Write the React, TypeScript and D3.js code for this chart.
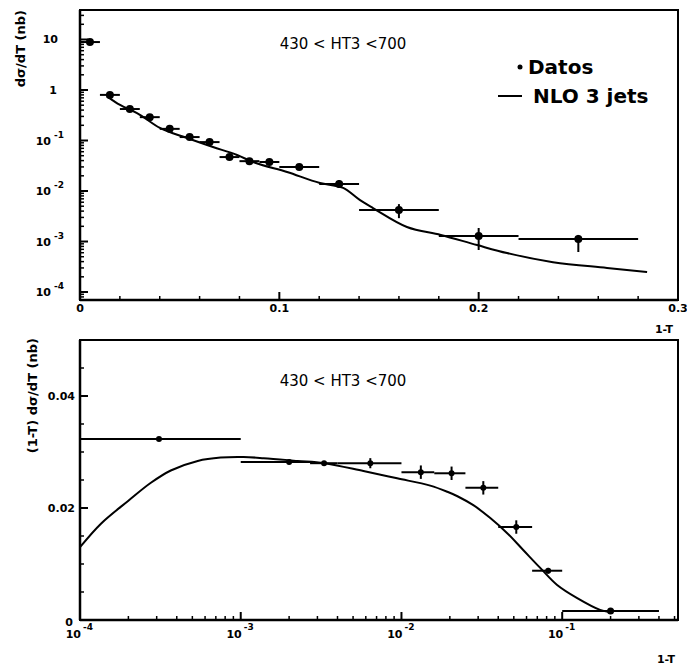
import React from "react";
import * as d3 from "d3";

// top panel: dsigma/dT vs 1-T
const topX = [0.005, 0.015, 0.025, 0.035, 0.045, 0.055, 0.065, 0.075, 0.085, 0.095, 0.11, 0.13, 0.16, 0.2, 0.25];
const topY = [8.9, 0.8, 0.42, 0.29, 0.17, 0.117, 0.093, 0.047, 0.039, 0.0375, 0.03, 0.0138, 0.0042, 0.00128, 0.00112];
const topXLo = [0, 0.01, 0.02, 0.03, 0.04, 0.05, 0.06, 0.07, 0.08, 0.09, 0.1, 0.12, 0.14, 0.18, 0.22];
const topXHi = [0.01, 0.02, 0.03, 0.04, 0.05, 0.06, 0.07, 0.08, 0.09, 0.1, 0.12, 0.14, 0.18, 0.22, 0.28];
const topYLo = [8.2, 0.74, 0.39, 0.27, 0.157, 0.108, 0.085, 0.043, 0.036, 0.034, 0.027, 0.0115, 0.0029, 0.00068, 0.00062];
const topYHi = [9.6, 0.86, 0.45, 0.31, 0.183, 0.126, 0.1, 0.051, 0.042, 0.041, 0.033, 0.0165, 0.0055, 0.00185, 0.00135];

const topNloX = [0.0135, 0.0201, 0.0286, 0.0401, 0.0537, 0.0667, 0.0788, 0.0868, 0.1039, 0.1204, 0.132, 0.1405, 0.147, 0.164, 0.181, 0.1992, 0.2142, 0.2373, 0.2644, 0.2845];
const topNloY = [0.75, 0.505, 0.35, 0.177, 0.112, 0.0743, 0.0516, 0.0375, 0.0238, 0.0144, 0.0115, 0.0066, 0.0046, 0.00194, 0.00135, 0.00085, 0.00059, 0.00039, 0.0003, 0.00025];

// bottom panel: (1-T) dsigma/dT vs 1-T (log)
const botX = [3.1e-4, 2.0e-3, 3.3e-3, 6.4e-3, 0.0132, 0.0205, 0.0323, 0.0518, 0.0818, 0.2];
const botY = [0.0323, 0.0282, 0.028, 0.028, 0.0264, 0.0262, 0.0236, 0.0166, 0.0088, 0.0016];
const botXLo = [1e-4, 1e-3, 2.7e-3, 4e-3, 0.01, 0.016, 0.025, 0.04, 0.065, 0.1];
const botXHi = [1e-3, 2.8e-3, 4e-3, 0.01, 0.016, 0.025, 0.04, 0.065, 0.1, 0.4];
const botYErr = [0, 0.0004, 0.0004, 0.0009, 0.0012, 0.0012, 0.0012, 0.0012, 0.0005, 0.0003];

const botNloX = [1e-4, 1.35e-4, 2.0e-4, 2.76e-4, 3.67e-4, 5.4e-4, 7.5e-4, 1.04e-3, 1.39e-3, 2.26e-3, 3.3e-3, 5.8e-3, 9.4e-3, 0.0151, 0.0193, 0.0223, 0.028, 0.0357, 0.0455, 0.0572, 0.073, 0.093, 0.124, 0.172, 0.199];
const botNloY = [0.013, 0.0172, 0.0213, 0.0245, 0.0267, 0.0284, 0.029, 0.0291, 0.0289, 0.0284, 0.028, 0.0266, 0.0253, 0.024, 0.0229, 0.0221, 0.0205, 0.0182, 0.0155, 0.0125, 0.0093, 0.00625, 0.0039, 0.0018, 0.0014];

const topXTicks = [0, 0.1, 0.2, 0.3];
const topXTickLabels = ["0", "0.1", "0.2", "0.3"];
const topYTicks = [1e-4, 1e-3, 1e-2, 1e-1, 1, 10];
const topYExp = [-4, -3, -2, -1, 0, 1];
const botXTicks = [1e-4, 1e-3, 1e-2, 1e-1];
const botXExp = [-4, -3, -2, -1];
const botYTicks = [0, 0.02, 0.04];
const botYTickLabels = ["0", "0.02", "0.04"];

const rangeLabel = "430 < HT3 <700";
const legendData = "Datos";
const legendNlo = "NLO 3 jets";

const FONT = "'DejaVu Sans', Arial, sans-serif";
const L = 80, R = 678;
const T1 = 10, B1 = 300;
const T2 = 340, B2 = 620;

export default function App() {
  const x1 = d3.scaleLinear().domain([0, 0.3]).range([L, R]);
  const y1 = d3.scaleLog().domain([10 ** -4.158, 10 ** 1.584]).range([B1, T1]);
  const x2 = d3.scaleLog().domain([1e-4, 10 ** -0.2795]).range([L, R]);
  const y2 = d3.scaleLinear().domain([0, 0.05]).range([B2, T2]);

  const line1 = d3
    .line<number>()
    .x((d, i) => x1(topNloX[i]))
    .y((d) => y1(d))
    .curve(d3.curveMonotoneX);
  const line2 = d3
    .line<number>()
    .x((d, i) => x2(botNloX[i]))
    .y((d) => y2(d))
    .curve(d3.curveCatmullRom.alpha(0.5));

  // minor ticks
  const y1Minor = y1.ticks().filter((v) => !topYTicks.some((t) => Math.abs(t - v) / t < 1e-6));
  const x1Minor = d3.range(0.02, 0.3, 0.02).filter((v) => Math.abs(v * 10 - Math.round(v * 10)) > 1e-6);
  const x2Minor = x2.ticks().filter((v) => !botXTicks.some((t) => Math.abs(t - v) / t < 1e-6));
  const y2Minor = d3.range(0.005, 0.05, 0.005).filter((v) => Math.abs(v * 50 - Math.round(v * 50)) > 1e-6);

  const ax = { stroke: "#000", strokeWidth: 2.5, fill: "none" };

  return (
    <svg width={687} height={665} style={{ position: "absolute", left: 0, top: 0, background: "#fff" }} fontFamily={FONT}>
      {/* ===== top panel ===== */}
      <rect x={L} y={T1} width={R - L} height={B1 - T1} fill="none" stroke="#000" strokeWidth={2} />
      <line x1={L} x2={L} y1={T1} y2={B1} {...ax} />
      <line x1={L} x2={R} y1={B1} y2={B1} {...ax} />
      {topYTicks.map((t) => (
        <line key={"ty" + t} x1={L} x2={L + 8} y1={y1(t)} y2={y1(t)} stroke="#000" strokeWidth={2} />
      ))}
      {y1Minor.map((t) => (
        <line key={"tym" + t} x1={L} x2={L + 4} y1={y1(t)} y2={y1(t)} stroke="#000" strokeWidth={1.5} />
      ))}
      {topXTicks.map((t) => (
        <line key={"tx" + t} x1={x1(t)} x2={x1(t)} y1={B1} y2={B1 - 8} stroke="#000" strokeWidth={2} />
      ))}
      {x1Minor.map((t) => (
        <line key={"txm" + t} x1={x1(t)} x2={x1(t)} y1={B1} y2={B1 - 4} stroke="#000" strokeWidth={1.5} />
      ))}
      {topXTicks.map((t, i) => (
        <text key={"txl" + t} x={x1(t)} y={312} fontSize={11} fontWeight="bold" textAnchor="middle">
          {topXTickLabels[i]}
        </text>
      ))}
      {topYTicks.map((t, i) => {
        const e = topYExp[i];
        const y = y1(t) + 4;
        if (e === 1) return <text key={"tyl" + t} x={58} y={y} fontSize={11} fontWeight="bold" textAnchor="end">10</text>;
        if (e === 0) return <text key={"tyl" + t} x={57} y={y} fontSize={11} fontWeight="bold" textAnchor="end">1</text>;
        return (
          <g key={"tyl" + t} fontWeight="bold">
            <text x={51} y={y} fontSize={11} textAnchor="end">10</text>
            <text x={54} y={y - 7} fontSize={9}>{e}</text>
          </g>
        );
      })}
      <text x={673} y={333} fontSize={11} fontWeight="bold" textAnchor="end">1-T</text>
      <text transform="translate(25,10) rotate(-90)" fontSize={13} fontWeight="bold" textAnchor="end">
        dσ/dT (nb)
      </text>
      <text x={343} y={49} fontSize={15} textAnchor="middle">{rangeLabel}</text>

      {/* legend */}
      <circle cx={520} cy={67} r={2.5} fill="#000" />
      <text x={528} y={74} fontSize={20} fontWeight="bold">{legendData}</text>
      <line x1={498} x2={522} y1={96} y2={96} stroke="#000" strokeWidth={2} />
      <text x={533} y={103} fontSize={20} fontWeight="bold">{legendNlo}</text>

      <path d={line1(topNloY) || ""} fill="none" stroke="#000" strokeWidth={2} />
      {topX.map((v, i) => (
        <g key={"tp" + i} stroke="#000" strokeWidth={2}>
          <line x1={x1(topXLo[i])} x2={x1(topXHi[i])} y1={y1(topY[i])} y2={y1(topY[i])} />
          <line x1={x1(v)} x2={x1(v)} y1={y1(topYLo[i])} y2={y1(topYHi[i])} />
          <circle cx={x1(v)} cy={y1(topY[i])} r={4} fill="#000" stroke="none" />
        </g>
      ))}

      {/* ===== bottom panel ===== */}
      <rect x={L} y={T2} width={R - L} height={B2 - T2} fill="none" stroke="#000" strokeWidth={2} />
      <line x1={L} x2={L} y1={T2} y2={B2} {...ax} />
      <line x1={L} x2={R} y1={B2} y2={B2} {...ax} />
      {botXTicks.map((t) => (
        <line key={"bx" + t} x1={x2(t)} x2={x2(t)} y1={B2} y2={B2 - 8} stroke="#000" strokeWidth={2} />
      ))}
      {x2Minor.map((t) => (
        <line key={"bxm" + t} x1={x2(t)} x2={x2(t)} y1={B2} y2={B2 - 4} stroke="#000" strokeWidth={1.5} />
      ))}
      {botYTicks.map((t) => (
        <line key={"by" + t} x1={L} x2={L + 8} y1={y2(t)} y2={y2(t)} stroke="#000" strokeWidth={2} />
      ))}
      {y2Minor.map((t) => (
        <line key={"bym" + t} x1={L} x2={L + 4} y1={y2(t)} y2={y2(t)} stroke="#000" strokeWidth={1.5} />
      ))}
      {botXTicks.map((t, i) => (
        <g key={"bxl" + t} fontWeight="bold">
          <text x={x2(t) + 1} y={638} fontSize={11} textAnchor="end">10</text>
          <text x={x2(t) + 3} y={630} fontSize={9}>{botXExp[i]}</text>
        </g>
      ))}
      {botYTicks.map((t, i) => (
        <text key={"byl" + t} x={t === 0 ? 73 : 75} y={t === 0 ? 626 : y2(t) + 4} fontSize={11} fontWeight="bold" textAnchor="end">
          {botYTickLabels[i]}
        </text>
      ))}
      <text x={675} y={663} fontSize={11} fontWeight="bold" textAnchor="end">1-T</text>
      <text transform="translate(37,338) rotate(-90)" fontSize={13} fontWeight="bold" textAnchor="end">
        (1-T) dσ/dT (nb)
      </text>
      <text x={343} y={386} fontSize={15} textAnchor="middle">{rangeLabel}</text>

      <path d={line2(botNloY) || ""} fill="none" stroke="#000" strokeWidth={2} />
      {botX.map((v, i) => (
        <g key={"bp" + i} stroke="#000" strokeWidth={2}>
          <line x1={x2(botXLo[i])} x2={x2(botXHi[i])} y1={y2(botY[i])} y2={y2(botY[i])} />
          {botYErr[i] > 0 && (
            <line x1={x2(v)} x2={x2(v)} y1={y2(botY[i] - botYErr[i])} y2={y2(botY[i] + botYErr[i])} />
          )}
          <circle cx={x2(v)} cy={y2(botY[i])} r={i === 9 ? 3.5 : 3} fill="#000" stroke="none" />
        </g>
      ))}
    </svg>
  );
}
